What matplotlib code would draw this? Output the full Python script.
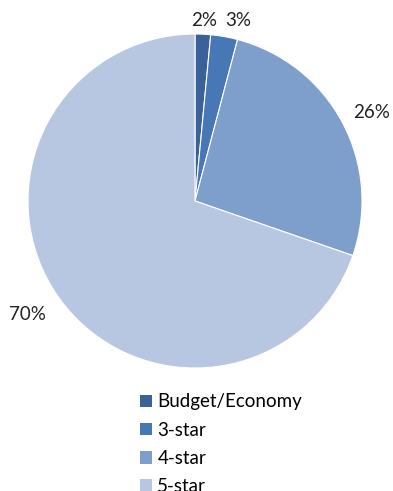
import matplotlib.pyplot as plt
from matplotlib.patches import Patch

categories = ["Budget/Economy", "3-star", "4-star", "5-star"]
shares = [1.5, 2.6, 26.2, 69.7]
pct_labels = ["2%", "3%", "26%", "70%"]
colors = ["#3B6298", "#4877B6", "#7E9ECB", "#B7C6E1"]

W, H = 393, 491
fig = plt.figure(figsize=(W / 100, H / 100), dpi=100)
plt.rcParams['font.family'] = ['Lato', 'DejaVu Sans']

# pie box in pixels: x 28..362, y 34..368
ax = fig.add_axes([28 / W, (H - 368) / H, 334 / W, 334 / H])
ax.pie(shares, colors=colors, startangle=90, counterclock=False,
       radius=1, wedgeprops=dict(linewidth=0.8, edgecolor="white"))
ax.set_xlim(-1, 1)
ax.set_ylim(-1, 1)
ax.set_aspect("equal")
ax.axis("off")

# percent labels (pixel positions of label centres)
label_pos = [(204, 20), (238, 20), (372, 113), (27, 315)]
for txt, (px, py) in zip(pct_labels, label_pos):
    fig.text(px / W, 1 - py / H, txt, ha="center", va="center", fontsize=13.5, color="#222222")

handles = [Patch(facecolor=c, edgecolor="none") for c in colors]
fig.legend(handles, categories, loc="upper left",
           bbox_to_anchor=(132 / W, 1 - 386 / H), frameon=False,
           fontsize=13.5, handlelength=0.65, handleheight=0.65,
           handletextpad=0.3, labelspacing=0.6, borderaxespad=0)

fig.savefig("out.png", dpi=100)
